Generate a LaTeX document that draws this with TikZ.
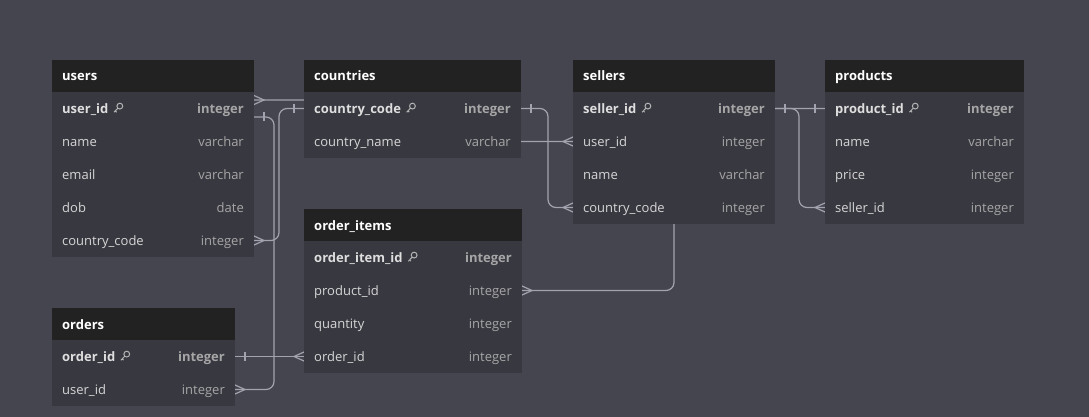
\documentclass[tikz,border=0pt]{standalone}
\usepackage{fontspec}
\setmainfont{Open Sans}
\definecolor{bgc}{HTML}{45454F}
\definecolor{hdrc}{HTML}{222222}
\definecolor{bodyc}{HTML}{383841}
\definecolor{linec}{HTML}{A3A3AF}
\definecolor{namec}{HTML}{D6D6D6}
\definecolor{typec}{HTML}{A6A6A6}
\pgfdeclarelayer{bgl}
\pgfsetlayers{bgl,main}
\newcommand\mkhdr[5]{%
  \node[hdrbox,minimum width=#4pt,anchor=north west] (#1) at (#2,#3) {};
  \node[hdrtxt,anchor=west] (#1-title) at ([xshift=10pt]#1.west) {#5};}
\newcommand\mkrow[7]{%
  \node[rowbox,minimum width=#4pt,anchor=north west] (#1) at (#2,#3) {};
  \node[#7name,anchor=west] (#1-f) at ([xshift=10pt]#1.west) {#5};
  \node[#7type,anchor=east] (#1-t) at ([xshift=-10pt]#1.east) {#6};
  \ifx#7p\path ([xshift=5.5pt,yshift=0.5pt]#1-f.east) pic {keyicon};\fi}
\begin{document}
\begin{tikzpicture}[x=1pt,y=-1pt,
  hdrbox/.style={rectangle,fill=hdrc,minimum height=32pt,inner sep=0pt,outer sep=0pt},
  hdrtxt/.style={inner sep=0pt,font=\bfseries\fontsize{13}{15}\selectfont,text=white,text height=11pt,text depth=1pt},
  rowbox/.style={rectangle,fill=bodyc,minimum height=33pt,inner sep=0pt,outer sep=0pt},
  pname/.style={inner sep=0pt,font=\bfseries\fontsize{13}{15}\selectfont,text=namec!80!white,text height=11pt,text depth=1pt},
  ptype/.style={inner sep=0pt,font=\bfseries\fontsize{13}{15}\selectfont,text=typec,text height=11pt,text depth=1pt},
  nname/.style={inner sep=0pt,font=\fontsize{13}{15}\selectfont,text=namec,text height=11pt,text depth=1pt},
  ntype/.style={inner sep=0pt,font=\fontsize{13}{15}\selectfont,text=typec,text height=11pt,text depth=1pt},
  conn/.style={draw=linec,line width=1.2pt},
  keyicon/.pic={\draw[typec!85!white,line width=1pt] (5.8,-1.9) circle (2.9) (3.8,0.2) -- (0,4.2) (1.3,2.9) -- (2.6,4.2);},
  crowright/.pic={\draw[conn] (0,-4.5) -- (10,0) -- (0,4.5);},
  crowleft/.pic={\draw[conn] (0,-4.5) -- (-10,0) -- (0,4.5);},
  tickright/.pic={\draw[conn] (10,-4.5) -- (10,4.5);},
  tickleft/.pic={\draw[conn] (-10,-4.5) -- (-10,4.5);}]
\begin{pgfonlayer}{bgl}
\fill[bgc] (0,0) rectangle (1089,417);
\end{pgfonlayer}
\useasboundingbox (0,0) rectangle (1089,417);
% users
\mkhdr{users}{52}{60}{202}{users}
\mkrow{users-uid}{52}{92}{202}{user\_id}{integer}{p}
\mkrow{users-name}{52}{125}{202}{name}{varchar}{n}
\mkrow{users-email}{52}{158}{202}{email}{varchar}{n}
\mkrow{users-dob}{52}{191}{202}{dob}{date}{n}
\mkrow{users-cc}{52}{224}{202}{country\_code}{integer}{n}
% countries
\mkhdr{countries}{304}{60}{217}{countries}
\mkrow{countries-cc}{304}{92}{217}{country\_code}{integer}{p}
\mkrow{countries-cn}{304}{125}{217}{country\_name}{varchar}{n}
% sellers
\mkhdr{sellers}{573}{60}{202}{sellers}
\mkrow{sellers-sid}{573}{92}{202}{seller\_id}{integer}{p}
\mkrow{sellers-uid}{573}{125}{202}{user\_id}{integer}{n}
\mkrow{sellers-name}{573}{158}{202}{name}{varchar}{n}
\mkrow{sellers-cc}{573}{191}{202}{country\_code}{integer}{n}
% products
\mkhdr{products}{825}{60}{199}{products}
\mkrow{products-pid}{825}{92}{199}{product\_id}{integer}{p}
\mkrow{products-name}{825}{125}{199}{name}{varchar}{n}
\mkrow{products-price}{825}{158}{199}{price}{integer}{n}
\mkrow{products-sid}{825}{191}{199}{seller\_id}{integer}{n}
% order_items
\mkhdr{oi}{304}{209}{218}{order\_items}
\mkrow{oi-id}{304}{241}{218}{order\_item\_id}{integer}{p}
\mkrow{oi-pid}{304}{274}{218}{product\_id}{integer}{n}
\mkrow{oi-qty}{304}{307}{218}{quantity}{integer}{n}
\mkrow{oi-oid}{304}{340}{218}{order\_id}{integer}{n}
% orders
\mkhdr{orders}{52}{308}{183}{orders}
\mkrow{orders-oid}{52}{340}{183}{order\_id}{integer}{p}
\mkrow{orders-uid}{52}{373}{183}{user\_id}{integer}{n}
% connectors
\begin{pgfonlayer}{bgl}
\draw[conn,rounded corners=8pt] ([yshift=8.5pt]users-uid.east) -- ++(150,0) |- (sellers-uid.west);
\path ([yshift=8.5pt]users-uid.east) pic {crowright};
\path (sellers-uid.west) pic {crowleft};
\draw[conn,rounded corners=8pt] ([yshift=-8.5pt]users-uid.east) -- ++(20,0) |- (orders-uid.east);
\path ([yshift=-8.5pt]users-uid.east) pic {tickright};
\path (orders-uid.east) pic {crowright};
\draw[conn,rounded corners=8pt] (countries-cc.west) -- ++(-25,0) |- (users-cc.east);
\path (countries-cc.west) pic {tickleft};
\path (users-cc.east) pic {crowright};
\draw[conn,rounded corners=8pt] (countries-cc.east) -- ++(27,0) |- (sellers-cc.west);
\path (countries-cc.east) pic {tickright};
\path (sellers-cc.west) pic {crowleft};
\draw[conn,rounded corners=8pt] (sellers-sid.east) -- ++(24,0) |- (products-sid.west);
\path (sellers-sid.east) pic {tickright};
\path (products-sid.west) pic {crowleft};
\draw[conn,rounded corners=8pt] (products-pid.west) -- ++(-151,0) |- (oi-pid.east);
\path (products-pid.west) pic {tickleft};
\path (oi-pid.east) pic {crowright};
\draw[conn] (orders-oid.east) -- (oi-oid.west);
\path (orders-oid.east) pic {tickright};
\path (oi-oid.west) pic {crowleft};
\end{pgfonlayer}
\end{tikzpicture}
\end{document}
